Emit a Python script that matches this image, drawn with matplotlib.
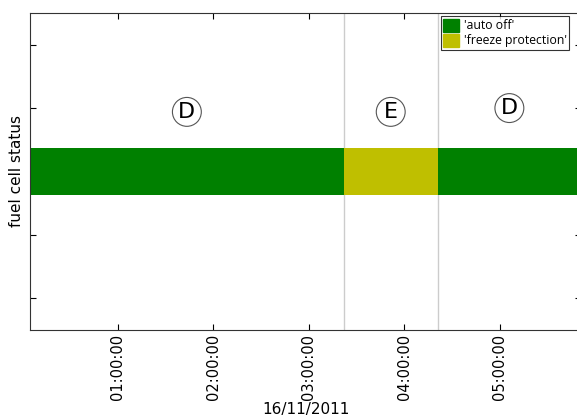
import matplotlib
matplotlib.use("Agg")
import matplotlib.pyplot as plt
import matplotlib.dates as mdates
from matplotlib.patches import Patch
from datetime import datetime

# Data
seg_starts = ["2011-11-16 00:05", "2011-11-16 03:22", "2011-11-16 04:21"]
seg_ends = ["2011-11-16 03:22", "2011-11-16 04:21", "2011-11-16 05:51"]
seg_states = ["auto off", "freeze protection", "auto off"]
seg_letters = ["D", "E", "D"]
letter_levels = [2.94, 2.94, 3.0]
state_colors = {"auto off": "#008000", "freeze protection": "#bfbf00"}
boundaries = ["2011-11-16 03:22", "2011-11-16 04:21"]
x_start = "2011-11-16 00:05"
x_end = "2011-11-16 05:51"
bar_level = 2

fmt = "%Y-%m-%d %H:%M"
to_dt = lambda s: datetime.strptime(s, fmt)

fig = plt.figure(figsize=(5.77, 4.18), dpi=100)
ax = fig.add_axes([0.052, 0.2105, 0.955, 0.7585])

for s, e, st, let, lv in zip(seg_starts, seg_ends, seg_states, seg_letters, letter_levels):
    ds, de = mdates.date2num(to_dt(s)), mdates.date2num(to_dt(e))
    ax.barh(bar_level, de - ds, left=ds, height=0.75, color=state_colors[st],
            edgecolor="none", zorder=2)
    ax.text((ds + de) / 2, lv, let, ha="center", va="center", fontsize=16, color="black",
            bbox=dict(boxstyle="circle,pad=0.2", fc="white", ec="#555555", lw=0.8), zorder=4)

for b in boundaries:
    ax.axvline(mdates.date2num(to_dt(b)), color="#cccccc", lw=1, zorder=1)

ax.set_xlim(mdates.date2num(to_dt(x_start)), mdates.date2num(to_dt(x_end)))
ax.set_ylim(-0.5, 4.5)
ax.set_yticks([0, 1, 2, 3, 4])
ax.set_yticklabels([])
ax.tick_params(axis="y", direction="in", length=4, right=True, left=True)
ax.tick_params(axis="x", direction="in", length=4, top=True, bottom=True, labelsize=10.5, pad=3)
ax.xaxis.set_major_locator(mdates.HourLocator())
ax.xaxis.set_major_formatter(mdates.DateFormatter("%H:%M:%S"))
for lbl in ax.get_xticklabels():
    lbl.set_rotation(90)
ax.set_xlabel("16/11/2011", fontsize=11)
ax.xaxis.set_label_coords(0.5, -0.228)
ax.set_ylabel("fuel cell status", fontsize=11, labelpad=1)
for sp in ax.spines.values():
    sp.set_color("#333333")

handles = [Patch(color=state_colors["auto off"], label="'auto off'"),
           Patch(color=state_colors["freeze protection"], label="'freeze protection'")]
leg = ax.legend(handles=handles, loc="upper left", bbox_to_anchor=(0.745, 0.99),
                prop={"family": "Open Sans", "size": 8.8}, fancybox=False,
                handlelength=1.3, handleheight=1.3, handletextpad=0.4,
                borderpad=0.2, labelspacing=0.1, borderaxespad=0)
leg.get_frame().set_edgecolor("black")
leg.get_frame().set_linewidth(0.8)

fig.savefig("out.png", dpi=100)
